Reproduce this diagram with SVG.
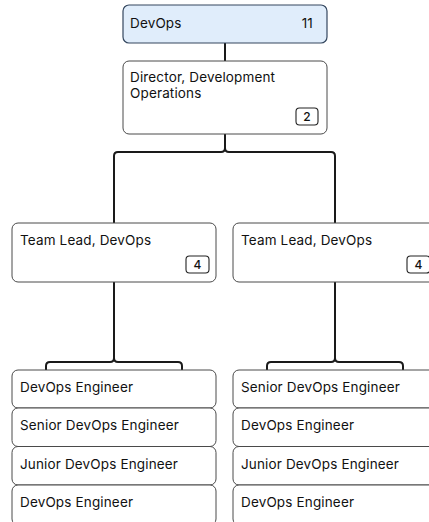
<svg xmlns="http://www.w3.org/2000/svg" width="429" height="522" viewBox="0 0 429 522">
<style>
text{font-family:Inter,"Noto Sans","Liberation Sans",sans-serif;font-size:13.5px;font-weight:400;letter-spacing:0.15px;fill:#111}
.card{fill:#fff;stroke:#4a4a4a;stroke-width:1}
.badge{fill:#fff;stroke:#222;stroke-width:1.1}
.bt{font-size:12px;font-weight:500;text-anchor:middle}
.conn{fill:none;stroke:#1a1a1a;stroke-width:2}
</style>
<rect width="429" height="522" fill="#fff"/>
<g id="connectors">
<path class="conn" d="M225,43 V61"/>
<path class="conn" d="M225,134 V148 Q225,152 221,152 H118 Q114,152 114,156 V223"/>
<path class="conn" d="M225,148 Q225,152 229,152 H331 Q335,152 335,156 V223"/>
<path class="conn" d="M114,282 V358 Q114,362 110,362 H50 Q46,362 46,366 V370"/>
<path class="conn" d="M114,358 Q114,362 118,362 H178 Q182,362 182,366 V370"/>
<path class="conn" d="M335,282 V358 Q335,362 331,362 H271 Q267,362 267,366 V370"/>
<path class="conn" d="M335,358 Q335,362 339,362 H399 Q403,362 403,366 V370"/>
</g>
<g id="node-devops">
<rect x="123" y="5" width="204" height="38" rx="6" fill="#e0edfb" stroke="#34475f" stroke-width="1.2"/>
<text x="130" y="28">DevOps</text>
<text x="313" y="28" font-size="12" font-weight="500" text-anchor="end">11</text>
</g>
<g id="node-director">
<rect class="card" x="123" y="61" width="204" height="73" rx="6"/>
<text x="130" y="82">Director, Development</text>
<text x="130" y="98">Operations</text>
<rect class="badge" x="296" y="108" width="22" height="17" rx="3.5"/>
<text class="bt" x="307" y="121">2</text>
</g>
<g id="node-lead-left">
<rect class="card" x="12" y="223" width="204" height="59" rx="6"/>
<text x="20" y="245">Team Lead, DevOps</text>
<rect class="badge" x="186" y="256" width="23" height="17" rx="3.5"/>
<text class="bt" x="197.5" y="269">4</text>
</g>
<g id="node-lead-right">
<rect class="card" x="233" y="223" width="204" height="59" rx="6"/>
<text x="241" y="245">Team Lead, DevOps</text>
<rect class="badge" x="407" y="256" width="23" height="17" rx="3.5"/>
<text class="bt" x="418.5" y="269">4</text>
</g>
<g id="node-l1">
<rect class="card" x="12" y="370" width="204" height="38" rx="6"/>
<text x="20" y="392">DevOps Engineer</text>
</g>
<g id="node-l2">
<rect class="card" x="12" y="408" width="204" height="38.5" rx="6"/>
<text x="20" y="430">Senior DevOps Engineer</text>
</g>
<g id="node-l3">
<rect class="card" x="12" y="446.5" width="204" height="38.5" rx="6"/>
<text x="20" y="469">Junior DevOps Engineer</text>
</g>
<g id="node-l4">
<rect class="card" x="12" y="485" width="204" height="40" rx="6"/>
<text x="20" y="507">DevOps Engineer</text>
</g>
<g id="node-r1">
<rect class="card" x="233" y="370" width="204" height="38" rx="6"/>
<text x="241" y="392">Senior DevOps Engineer</text>
</g>
<g id="node-r2">
<rect class="card" x="233" y="408" width="204" height="38.5" rx="6"/>
<text x="241" y="430">DevOps Engineer</text>
</g>
<g id="node-r3">
<rect class="card" x="233" y="446.5" width="204" height="38.5" rx="6"/>
<text x="241" y="469">Junior DevOps Engineer</text>
</g>
<g id="node-r4">
<rect class="card" x="233" y="485" width="204" height="40" rx="6"/>
<text x="241" y="507">DevOps Engineer</text>
</g>
</svg>
